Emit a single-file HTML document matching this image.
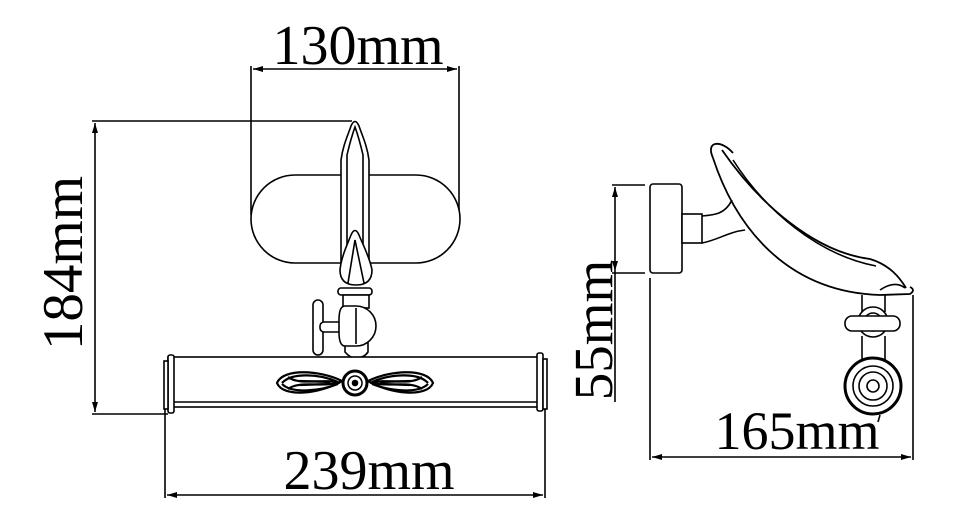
<!DOCTYPE html>
<html><head><meta charset="utf-8"><style>
html,body{margin:0;padding:0;background:#fff;}
svg{display:block;}
text{font-family:"Liberation Serif",serif;fill:#000;}
</style></head><body>
<svg width="960" height="524" viewBox="0 0 960 524" xmlns="http://www.w3.org/2000/svg">
<defs>
<marker id="a" viewBox="0 0 10 6" refX="10" refY="3" markerWidth="10" markerHeight="6" orient="auto-start-reverse" markerUnits="userSpaceOnUse"><path d="M0,0 L10,3 L0,6 Z" fill="#000"/></marker>
</defs>
<g stroke="#000" stroke-width="1.6" fill="none">
<line x1="251" y1="66" x2="251" y2="215"/>
<line x1="459" y1="66" x2="459" y2="215"/>
<line x1="253" y1="69" x2="457" y2="69" marker-start="url(#a)" marker-end="url(#a)"/>
<line x1="92" y1="121" x2="352" y2="121"/>
<line x1="92" y1="414" x2="168" y2="414"/>
<line x1="95" y1="123" x2="95" y2="412" marker-start="url(#a)" marker-end="url(#a)"/>
<line x1="165" y1="400" x2="165" y2="498"/>
<line x1="545" y1="400" x2="545" y2="498"/>
<line x1="167" y1="495" x2="543" y2="495" marker-start="url(#a)" marker-end="url(#a)"/>
<rect x="251" y="175" width="209" height="88" rx="44" fill="#fff"/>
<path d="M341,275 L341,160 C343,145 348,135 351,126 Q355,117 359,126 C362,135 367,145 369,160 L369,275" fill="#fff"/>
<path d="M347,272 L347,155 Q351,138 355,127 Q359,138 363,155 L363,272"/>
<path d="M340,270 C341,258 347,245 351,235 Q355,226 359,235 C363,245 370,258 372,270 Q372,285 356,285 Q340,285 340,270 Z" fill="#fff"/>
<path d="M348,283 L355,240 L364,283"/>
<rect x="338" y="288" width="34" height="7" rx="3" fill="#fff"/>
<rect x="343" y="295" width="26" height="13" fill="#fff"/>
<rect x="313" y="300" width="10" height="55" rx="5" fill="#fff"/>
<rect x="320" y="322" width="22" height="10" rx="4" fill="#fff"/>
<path d="M345,352 Q350,358 356,358 Q364,358 368,352 L368,340 L345,340 Z" fill="#fff"/>
<path d="M345,306 L356,306 A20,20 0 0 1 356,346 L345,346 Q339,346 339,332 L339,320 Q339,306 345,306 Z" fill="#fff"/>
<line x1="356" y1="308" x2="356" y2="344"/>
<rect x="168" y="357" width="374" height="50" fill="#fff"/>
<line x1="172" y1="402" x2="538" y2="402"/>
<rect x="168" y="355" width="6" height="58" rx="2" fill="#fff"/>
<rect x="164" y="361" width="4" height="48" fill="#fff"/>
<rect x="537" y="353" width="6" height="58" rx="2" fill="#fff"/>
<rect x="543" y="359" width="4" height="50" fill="#fff"/>
<g stroke-width="2.2">
<path d="M277,383 C283,368 320,370 342,381 C320,394 283,398 277,383 Z"/>
<path d="M282,383 C292,372 320,374 338,382 M282,384 C292,394 320,391 338,384"/>
<path d="M288,377 C300,386 322,378 340,383 M288,389 C300,380 322,388 340,382"/>
<path d="M433,383 C427,368 390,370 368,381 C390,394 427,398 433,383 Z"/>
<path d="M428,383 C418,372 390,374 372,382 M428,384 C418,394 390,391 372,384"/>
<path d="M422,377 C410,386 388,378 370,383 M422,389 C410,380 388,388 370,382"/>
<path d="M300,381 L330,382 M300,385 L330,384 M410,381 L380,382 M410,385 L380,384"/>
</g>
<circle cx="355" cy="383" r="12" stroke-width="3" fill="#fff"/>
<circle cx="355" cy="383" r="7" stroke-width="1.5"/>
<circle cx="355" cy="383" r="2.5" fill="#000"/>

<line x1="612" y1="185" x2="645" y2="185"/>
<line x1="612" y1="273" x2="645" y2="273"/>
<line x1="615" y1="187" x2="615" y2="271" marker-start="url(#a)" marker-end="url(#a)"/>
<line x1="615" y1="271" x2="615" y2="402"/>
<line x1="650" y1="278" x2="650" y2="460"/>
<line x1="913" y1="295" x2="913" y2="460"/>
<line x1="652" y1="457" x2="911" y2="457" marker-start="url(#a)" marker-end="url(#a)"/>
<rect x="650" y="184" width="32" height="89" rx="3" fill="#fff"/>
<rect x="682" y="214" width="20" height="29" fill="#fff"/>
<path d="M702,216 C715,215 725,214 732,200"/>
<path d="M702,243 C718,240 728,232 745,230"/>
<path d="M713,158 C735,225 785,292 880,295 L910,294 Q916,290 910,287" stroke-width="1.8"/>
<path d="M713,158 C705,140 722,140 733,153" stroke-width="1.8"/>
<path d="M722,150 C760,205 815,252 870,259 C890,265 900,278 906,288" stroke-width="1.8"/>
<path d="M733,160 C765,210 818,255 876,266"/>
<path d="M880,290 Q895,280 905,288"/>
<line x1="862" y1="295" x2="862" y2="312"/>
<line x1="885" y1="295" x2="885" y2="312"/>
<circle cx="873" cy="322" r="15" fill="#fff"/>
<circle cx="873" cy="322" r="9"/>
<rect x="845" y="316" width="55" height="15" rx="7" fill="#fff"/>
<line x1="862" y1="336" x2="862" y2="360"/>
<line x1="885" y1="336" x2="885" y2="360"/>
<circle cx="873" cy="386" r="28" stroke-width="3" fill="#fff"/>
<circle cx="873" cy="386" r="20"/>
<circle cx="873" cy="386" r="14"/>
<circle cx="873" cy="386" r="6"/>
<line x1="880" y1="415" x2="878" y2="422"/>
</g>
<text x="358" y="64" font-size="56" text-anchor="middle">130mm</text>
<text x="369" y="489" font-size="56" text-anchor="middle">239mm</text>
<text x="797" y="449" font-size="54" text-anchor="middle">165mm</text>
<text transform="translate(82,263) rotate(-90)" font-size="57" text-anchor="middle">184mm</text>
<text transform="translate(612,330) rotate(-90)" font-size="55" text-anchor="middle">55mm</text>
</svg>
</body></html>
